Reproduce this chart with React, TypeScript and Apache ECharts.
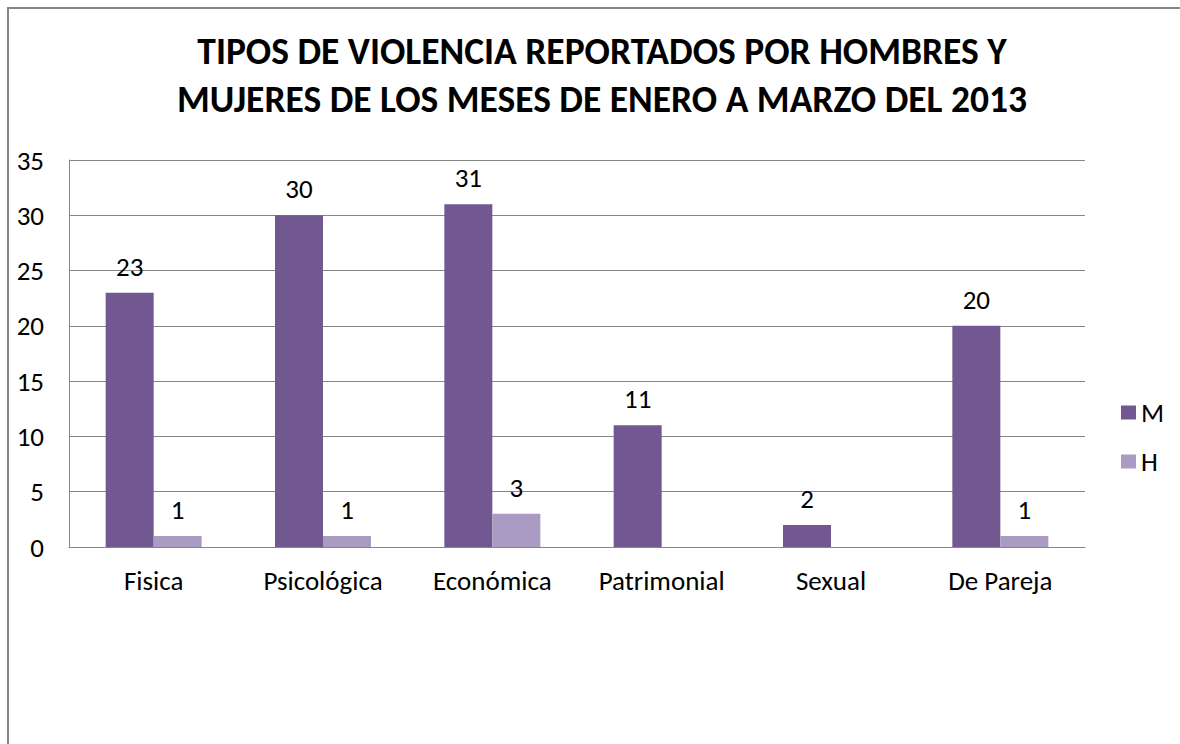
import React, { useEffect, useRef } from "react";
import * as echarts from "echarts";

const categories = ["Fisica", "Psicológica", "Económica", "Patrimonial", "Sexual", "De Pareja"];
const seriesM = [23, 30, 31, 11, 2, 20];
const seriesH: (number | null)[] = [1, 1, 3, null, null, 1];
const titleText = "TIPOS DE VIOLENCIA REPORTADOS POR HOMBRES Y\nMUJERES DE LOS MESES DE ENERO A MARZO DEL 2013";

const FONT = "Carlito, 'Liberation Sans', sans-serif";

export default function App() {
  const ref = useRef<HTMLDivElement>(null);
  useEffect(() => {
    const chart = echarts.init(ref.current!, null, { renderer: "svg" });
    chart.setOption({
      animation: false,
      backgroundColor: "#ffffff",
      title: {
        text: titleText,
        left: 597,
        textAlign: "center",
        top: 22,
        textStyle: { fontFamily: FONT, fontSize: 37.5, fontWeight: "bold", color: "#000", lineHeight: 48 },
      },
      graphic: [
        {
          type: "rect",
          shape: { x: 8, y: 8, width: 1400, height: 1000 },
          style: { fill: "none", stroke: "#868686", lineWidth: 2 },
        },
      ],
      legend: {
        orient: "vertical",
        left: 1116,
        top: 394,
        itemWidth: 15,
        itemHeight: 14,
        itemGap: 22,
        icon: "rect",
        textStyle: { fontFamily: FONT, fontSize: 27, color: "#000", lineHeight: 20 },
        data: ["M", "H"],
      },
      grid: { left: 69, right: 95, top: 160, bottom: 197 },
      xAxis: {
        type: "category",
        data: categories,
        axisLine: { show: true, lineStyle: { color: "#868686", width: 1 } },
        axisTick: { show: false },
        axisLabel: { fontFamily: FONT, fontSize: 27, color: "#000", margin: 20 },
      },
      yAxis: {
        type: "value",
        min: 0,
        max: 35,
        interval: 5,
        axisLine: { show: true, lineStyle: { color: "#868686", width: 1 } },
        axisTick: { show: false },
        splitLine: { lineStyle: { color: "#868686", width: 1 } },
        axisLabel: { fontFamily: FONT, fontSize: 27, color: "#000", margin: 25 },
      },
      series: [
        {
          name: "M",
          type: "bar",
          data: seriesM,
          barWidth: 48,
          barGap: "0%",
          itemStyle: { color: "#725891" },
          label: { show: true, position: "top", distance: 13, fontFamily: FONT, fontSize: 27, color: "#000" },
        },
        {
          name: "H",
          type: "bar",
          data: seriesH,
          barWidth: 48,
          barGap: "0%",
          itemStyle: { color: "#A99BC1" },
          label: { show: true, position: "top", distance: 13, fontFamily: FONT, fontSize: 27, color: "#000" },
        },
      ],
    });
    return () => chart.dispose();
  }, []);
  return (
    <div
      ref={ref}
      style={{ position: "fixed", left: 0, top: 0, width: 1180, height: 744 }}
    />
  );
}
